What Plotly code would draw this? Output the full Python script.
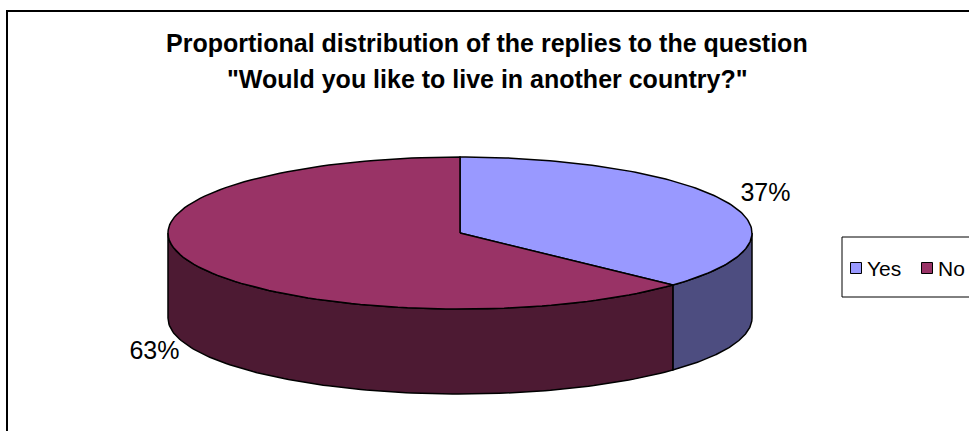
import numpy as np
import plotly.graph_objects as go

# ---- data ----
categories = ["Yes", "No"]
shares = [37, 63]
label_texts = ["37%", "63%"]
title_lines = [
    "Proportional distribution of the replies to the question",
    "\"Would you like to live in another country?\"",
]

# ---- styling ----
top_colors = ["#9999FF", "#993366"]
side_colors = ["#4D4D80", "#4D1A33"]
FONT = "Arial, Liberation Sans, sans-serif"
W, H = 969, 431

# pie geometry (pixel units, y grows downward)
CX, CY, RX, RY, DEPTH = 460, 233, 292, 76, 85


def ell(deg, dy=0.0):
    """Point on the tilted pie rim; angle clockwise from 12 o'clock."""
    t = np.radians(deg)
    return CX + RX * np.sin(t), CY - RY * np.cos(t) + dy


def arc(a0, a1, dy=0.0, n=120):
    angs = np.linspace(a0, a1, n)
    xs, ys = ell(angs, dy)
    return list(xs), list(ys)


total = float(sum(shares))
bounds = []
acc = 0.0
for v in shares:
    a0 = acc / total * 360.0
    acc += v
    bounds.append((a0, acc / total * 360.0))

fig = go.Figure()

# side walls (only the front half, 90..270 degrees, is visible)
for (a0, a1), col in zip(bounds, side_colors):
    lo, hi = max(a0, 90.0), min(a1, 270.0)
    if hi <= lo:
        continue
    tx, ty = arc(lo, hi)
    bx, by = arc(hi, lo, DEPTH)
    fig.add_trace(go.Scatter(
        x=tx + bx + [tx[0]], y=ty + by + [ty[0]],
        mode="lines", fill="toself", fillcolor=col,
        line=dict(color="black", width=1.5),
        hoverinfo="skip", showlegend=False,
    ))

# top faces
for (a0, a1), col, name, v in zip(bounds, top_colors, categories, shares):
    ax, ay = arc(a0, a1)
    fig.add_trace(go.Scatter(
        x=[CX] + ax + [CX], y=[CY] + ay + [CY],
        mode="lines", fill="toself", fillcolor=col,
        line=dict(color="black", width=1.5),
        name=name, text=f"{name}: {v}%", hoverinfo="text",
        hoveron="fills", showlegend=False,
    ))

# percentage labels outside the rim
lx, ly = [], []
for (a0, a1) in bounds:
    mid = (a0 + a1) / 2.0
    t = np.radians(mid)
    k = 1.14
    x = CX + RX * np.sin(t) * k
    y = CY - RY * np.cos(t) * k + (DEPTH if np.cos(t) < 0 else -4)
    lx.append(x)
    ly.append(y)
fig.add_trace(go.Scatter(
    x=lx, y=ly, mode="text", text=label_texts,
    textposition="middle center",
    textfont=dict(family=FONT, size=25, color="black"),
    hoverinfo="skip", showlegend=False,
))

# legend swatches
leg_x = [856, 927]
fig.add_trace(go.Scatter(
    x=leg_x, y=[268, 268], mode="markers",
    marker=dict(symbol="square", size=11, color=top_colors,
                line=dict(color="black", width=1)),
    hoverinfo="skip", showlegend=False,
))

annotations = []
for i, line in enumerate(title_lines):
    annotations.append(dict(
        x=487, y=[43, 79][i], xref="x", yref="y", text=f"<b>{line}</b>",
        showarrow=False, xanchor="center", yanchor="middle",
        font=dict(family=FONT, size=25, color="black"),
    ))
for xx, name in zip(leg_x, categories):
    annotations.append(dict(
        x=xx + 9, y=268, xref="x", yref="y", text=name, showarrow=False,
        xanchor="left", yanchor="middle",
        font=dict(family=FONT, size=21, color="black"),
    ))

shapes = [
    # chart frame (runs off the right and bottom edges)
    dict(type="rect", xref="x", yref="y", x0=7, y0=11, x1=W + 20, y1=H + 20,
         line=dict(color="black", width=2), fillcolor="rgba(0,0,0,0)", layer="below"),
    # legend box
    dict(type="rect", xref="x", yref="y", x0=842, y0=237, x1=W + 20, y1=297,
         line=dict(color="black", width=1), fillcolor="white", layer="below"),
]

fig.update_layout(
    width=W, height=H,
    margin=dict(l=0, r=0, t=0, b=0),
    paper_bgcolor="white", plot_bgcolor="white",
    xaxis=dict(range=[0, W], visible=False, fixedrange=True),
    yaxis=dict(range=[H, 0], visible=False, fixedrange=True),
    annotations=annotations, shapes=shapes,
    showlegend=False,
)

fig.write_html("out.html", config={"displayModeBar": False})
